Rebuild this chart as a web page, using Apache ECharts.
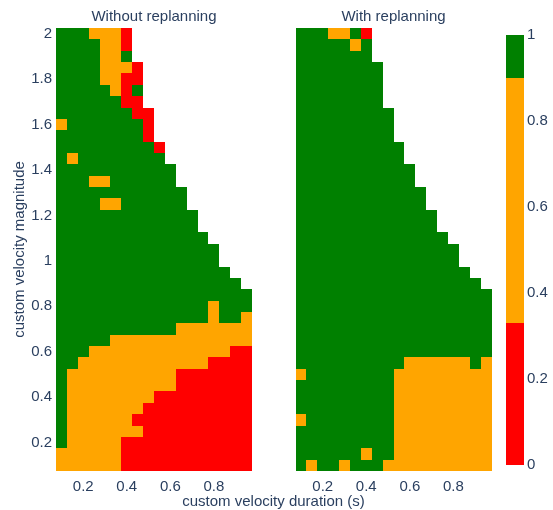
<!DOCTYPE html>
<html>
<head>
<meta charset="utf-8">
<script src="https://cdn.jsdelivr.net/npm/echarts@6/dist/echarts.min.js"></script>
<style>
html,body{margin:0;padding:0;background:#fff;}
#chart{width:553px;height:510px;}
</style>
</head>
<body>
<div id="chart"></div>
<script>
// ---- data ----
const xValues = [0.1,0.15,0.2,0.25,0.3,0.35,0.4,0.45,0.5,0.55,0.6,0.65,0.7,0.75,0.8,0.85,0.9,0.95];
// rows from top (2.0) to bottom (0.1)
const yValues = [2.0,1.95,1.9,1.85,1.8,1.75,1.7,1.65,1.6,1.55,1.5,1.45,1.4,1.35,1.3,1.25,1.2,1.15,1.1,1.05,
                 1.0,0.95,0.9,0.85,0.8,0.75,0.7,0.65,0.6,0.55,0.5,0.45,0.4,0.35,0.3,0.25,0.2,0.15,0.1];
// cell codes: G = 1, O = 0.5, R = 0 ; missing cells are omitted at row end
const codeValue = {G: 1, O: 0.5, R: 0};
const withoutReplanning = [
  "GGGOOOR",
  "GGGGOOR",
  "GGGGOOG",
  "GGGGOOOR",
  "GGGGOORR",
  "GGGGGORG",
  "GGGGGGRR",
  "GGGGGGGRR",
  "OGGGGGGGR",
  "GGGGGGGGR",
  "GGGGGGGGGR",
  "GOGGGGGGGG",
  "GGGGGGGGGGG",
  "GGGOOGGGGGG",
  "GGGGGGGGGGGG",
  "GGGGOOGGGGGG",
  "GGGGGGGGGGGGG",
  "GGGGGGGGGGGGG",
  "GGGGGGGGGGGGGG",
  "GGGGGGGGGGGGGGG",
  "GGGGGGGGGGGGGGG",
  "GGGGGGGGGGGGGGGG",
  "GGGGGGGGGGGGGGGGG",
  "GGGGGGGGGGGGGGGGGG",
  "GGGGGGGGGGGGGGOGGG",
  "GGGGGGGGGGGGGGOGGO",
  "GGGGGGGGGGGOOOOOOO",
  "GGGGGOOOOOOOOOOOOO",
  "GGGOOOOOOOOOOOOORR",
  "GGOOOOOOOOOOOORRRR",
  "GOOOOOOOOOORRRRRRR",
  "GOOOOOOOOOORRRRRRR",
  "GOOOOOOOORRRRRRRRR",
  "GOOOOOOORRRRRRRRRR",
  "GOOOOOORRRRRRRRRRR",
  "GOOOOOOORRRRRRRRRR",
  "GOOOOORRRRRRRRRRRR",
  "OOOOOORRRRRRRRRRRR",
  "OOOOOORRRRRRRRRRRR"
];
const withReplanning = [
  "GGGOOGR",
  "GGGGGOG",
  "GGGGGGG",
  "GGGGGGGG",
  "GGGGGGGG",
  "GGGGGGGG",
  "GGGGGGGG",
  "GGGGGGGGG",
  "GGGGGGGGG",
  "GGGGGGGGG",
  "GGGGGGGGGG",
  "GGGGGGGGGG",
  "GGGGGGGGGGG",
  "GGGGGGGGGGG",
  "GGGGGGGGGGGG",
  "GGGGGGGGGGGG",
  "GGGGGGGGGGGGG",
  "GGGGGGGGGGGGG",
  "GGGGGGGGGGGGGG",
  "GGGGGGGGGGGGGGG",
  "GGGGGGGGGGGGGGG",
  "GGGGGGGGGGGGGGGG",
  "GGGGGGGGGGGGGGGGG",
  "GGGGGGGGGGGGGGGGGG",
  "GGGGGGGGGGGGGGGGGG",
  "GGGGGGGGGGGGGGGGGG",
  "GGGGGGGGGGGGGGGGGG",
  "GGGGGGGGGGGGGGGGGG",
  "GGGGGGGGGGGGGGGGGG",
  "GGGGGGGGGGOOOOOOGO",
  "OGGGGGGGGOOOOOOOOO",
  "GGGGGGGGGOOOOOOOOO",
  "GGGGGGGGGOOOOOOOOO",
  "GGGGGGGGGOOOOOOOOO",
  "OGGGGGGGGOOOOOOOOO",
  "GGGGGGGGGOOOOOOOOO",
  "GGGGGGGGGOOOOOOOOO",
  "GGGGGGOGGOOOOOOOOO",
  "GOGGOGGGOOOOOOOOOO"
];
const xTicks = [0.2, 0.4, 0.6, 0.8];
const yTicks = [0.2, 0.4, 0.6, 0.8, 1, 1.2, 1.4, 1.6, 1.8, 2];
const colorStops = [0, 0.33, 0.9, 1];
const colorNames = ['#ff0000', '#ffa500', '#008000'];
const colorbarTicks = [0, 0.2, 0.4, 0.6, 0.8, 1];
const subplotTitles = ['Without replanning', 'With replanning'];
const xTitle = 'custom velocity duration (s)';
const yTitle = 'custom velocity magnitude';

// ---- build ----
const TXT = '#2a3f5f';
const FONT = "'Liberation Sans', Arial, sans-serif";
const FS = 15;
const dx = xValues[1] - xValues[0];
const dy = yValues[0] - yValues[1];

function toCells(rows) {
  const out = [];
  rows.forEach((row, r) => {
    for (let c = 0; c < row.length; c++) {
      const ch = row[c];
      if (ch in codeValue) out.push([xValues[c], yValues[r], codeValue[ch]]);
    }
  });
  return out;
}

function tickFmt(ticks) {
  return function (v) {
    for (const t of ticks) if (Math.abs(t - v) < 1e-6) return String(t);
    return '';
  };
}

function renderCell(params, api) {
  const x = api.value(0), y = api.value(1);
  const a = api.coord([x - dx / 2, y + dy / 2]);
  const b = api.coord([x + dx / 2, y - dy / 2]);
  const x0 = Math.round(a[0]), y0 = Math.round(a[1]);
  const x1 = Math.round(b[0]), y1 = Math.round(b[1]);
  return {
    type: 'rect',
    shape: {x: x0, y: y0, width: x1 - x0, height: y1 - y0},
    style: {fill: api.visual('color')}
  };
}

const xMin = xValues[0] - dx / 2, xMax = xValues[xValues.length - 1] + dx / 2;
const yMin = yValues[yValues.length - 1] - dy / 2, yMax = yValues[0] + dy / 2;

function xAxisCfg(gi) {
  return {
    type: 'value', gridIndex: gi, min: xMin, max: xMax, splitNumber: 5,
    axisLine: {show: false}, axisTick: {show: false}, splitLine: {show: false},
    axisLabel: {formatter: tickFmt(xTicks), color: TXT, fontFamily: FONT, fontSize: FS, margin: 8,
                showMinLabel: false, showMaxLabel: false}
  };
}
function yAxisCfg(gi, showLabels) {
  const cfg = {
    type: 'value', gridIndex: gi, min: yMin, max: yMax, splitNumber: 10, minInterval: 0.2, maxInterval: 0.2,
    axisLine: {show: false}, axisTick: {show: false}, splitLine: {show: false},
    axisLabel: {show: showLabels, formatter: tickFmt(yTicks), color: TXT, fontFamily: FONT, fontSize: FS, margin: 4,
                showMinLabel: false, showMaxLabel: false}
  };
  if (showLabels) {
    cfg.name = yTitle;
    cfg.nameLocation = 'middle';
    cfg.nameGap = 28;
    cfg.nameTextStyle = {color: TXT, fontFamily: FONT, fontSize: FS};
  }
  return cfg;
}

const colorbarSeries = colorNames.map((col, i) => ({
  type: 'bar', xAxisIndex: 2, yAxisIndex: 2, stack: 'cb', barWidth: '100%',
  data: [colorStops[i + 1] - colorStops[i]], itemStyle: {color: col}, silent: true
}));

const option = {
  animation: false,
  backgroundColor: '#ffffff',
  grid: [
    {left: 56, top: 28, width: 196, height: 443},
    {left: 295.5, top: 28, width: 196, height: 443},
    {left: 506, top: 35, width: 18, height: 430}
  ],
  xAxis: [
    xAxisCfg(0), xAxisCfg(1),
    {type: 'category', gridIndex: 2, data: ['cb'], show: false}
  ],
  yAxis: [
    yAxisCfg(0, true), yAxisCfg(1, false),
    {type: 'value', gridIndex: 2, position: 'right', min: 0, max: 1, interval: 0.2,
     axisLine: {show: false}, axisTick: {show: false}, splitLine: {show: false},
     axisLabel: {formatter: tickFmt(colorbarTicks), color: TXT, fontFamily: FONT, fontSize: FS, margin: 3}}
  ],
  visualMap: {
    type: 'piecewise', show: false, dimension: 2, seriesIndex: [0, 1],
    pieces: colorNames.map((col, i) => ({min: colorStops[i], max: colorStops[i + 1], color: col}))
  },
  series: [
    {type: 'custom', xAxisIndex: 0, yAxisIndex: 0, renderItem: renderCell, encode: {x: 0, y: 1},
     data: toCells(withoutReplanning)},
    {type: 'custom', xAxisIndex: 1, yAxisIndex: 1, renderItem: renderCell, encode: {x: 0, y: 1},
     data: toCells(withReplanning)}
  ].concat(colorbarSeries),
  graphic: [
    {type: 'text', x: 154, y: 17, style: {text: subplotTitles[0], fill: TXT, font: FS + 'px ' + FONT, align: 'center', verticalAlign: 'middle'}},
    {type: 'text', x: 393.5, y: 17, style: {text: subplotTitles[1], fill: TXT, font: FS + 'px ' + FONT, align: 'center', verticalAlign: 'middle'}},
    {type: 'text', x: 273.5, y: 502, style: {text: xTitle, fill: TXT, font: FS + 'px ' + FONT, align: 'center', verticalAlign: 'middle'}}
  ]
};

const chart = echarts.init(document.getElementById('chart'), null, {renderer: 'canvas'});
chart.setOption(option);
</script>
</body>
</html>
